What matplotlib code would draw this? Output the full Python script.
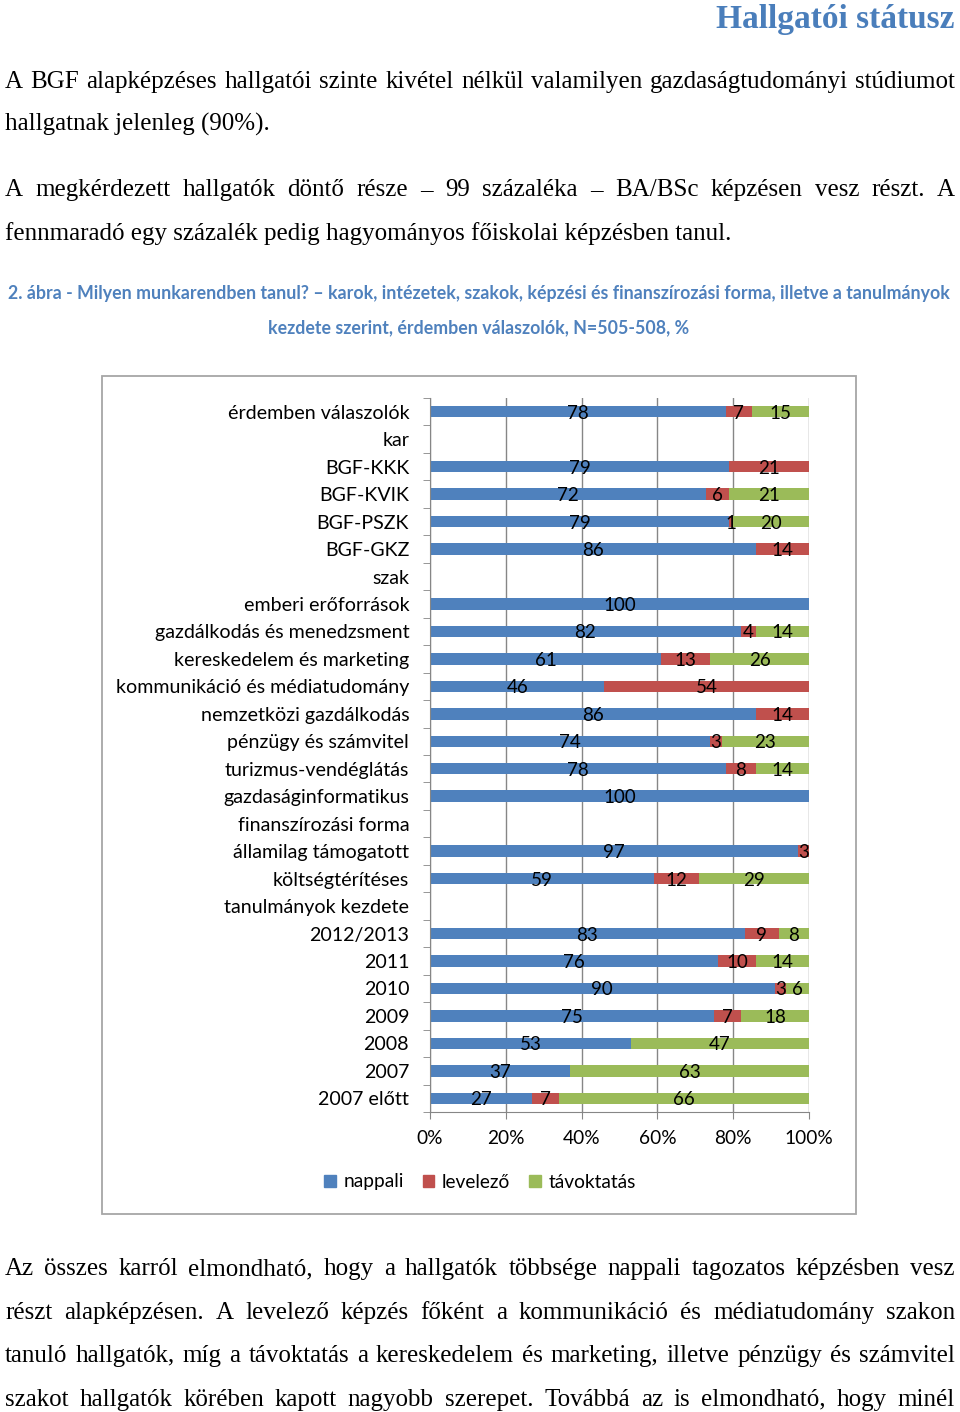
import matplotlib
matplotlib.use("Agg")
import matplotlib.pyplot as plt
from matplotlib.patches import Rectangle, Patch
import numpy as np

# chart data (None = group heading row without bar)
categories = ["érdemben válaszolók", "kar", "BGF-KKK", "BGF-KVIK", "BGF-PSZK", "BGF-GKZ",
              "szak", "emberi erőforrások", "gazdálkodás és menedzsment",
              "kereskedelem és marketing", "kommunikáció és médiatudomány",
              "nemzetközi gazdálkodás", "pénzügy és számvitel", "turizmus-vendéglátás",
              "gazdaságinformatikus", "finanszírozási forma", "államilag támogatott",
              "költségtérítéses", "tanulmányok kezdete", "2012/2013", "2011", "2010",
              "2009", "2008", "2007", "2007 előtt"]
nappali = [78, None, 79, 72, 79, 86, None, 100, 82, 61, 46, 86, 74, 78, 100, None,
           97, 59, None, 83, 76, 90, 75, 53, 37, 27]
levelezo = [7, None, 21, 6, 1, 14, None, 0, 4, 13, 54, 14, 3, 8, 0, None,
            3, 12, None, 9, 10, 3, 7, 0, 0, 7]
tavoktatas = [15, None, 0, 21, 20, 0, None, 0, 14, 26, 0, 0, 23, 14, 0, None,
              0, 29, None, 8, 14, 6, 18, 47, 63, 66]
series_names = ["nappali", "levelező", "távoktatás"]
x_ticks = [0, 20, 40, 60, 80, 100]

title = "Hallgatói státusz"
caption = ["2. ábra - Milyen munkarendben tanul? – karok, intézetek, szakok, képzési és finanszírozási forma, illetve a tanulmányok",
           "kezdete szerint, érdemben válaszolók, N=505-508, %"]
para_top = [
    ["A BGF alapképzéses hallgatói szinte kivétel nélkül valamilyen gazdaságtudományi stúdiumot",
     "hallgatnak jelenleg (90%)."],
    ["A megkérdezett hallgatók döntő része – 99 százaléka – BA/BSc képzésen vesz részt. A",
     "fennmaradó egy százalék pedig hagyományos főiskolai képzésben tanul."],
]
para_bottom = [
    "Az összes karról elmondható, hogy a hallgatók többsége nappali tagozatos képzésben vesz",
    "részt alapképzésen. A levelező képzés főként a kommunikáció és médiatudomány szakon",
    "tanuló hallgatók, míg a távoktatás a kereskedelem és marketing, illetve pénzügy és számvitel",
    "szakot hallgatók körében kapott nagyobb szerepet. Továbbá az is elmondható, hogy minél",
]

colors = ["#4F81BD", "#C0504D", "#9BBB59"]
W, H = 960, 1412
SANS = "Lato"
SERIF = "Liberation Serif"

fig = plt.figure(figsize=(W / 100, H / 100), dpi=100)
renderer = fig.canvas.get_renderer()


def text_line(line, base_y, justify=True, x0=5, x1=955, size=18):
    words = line.split(" ")
    if not justify:
        fig.text(x0 / W, 1 - base_y / H, line, ha="left", va="baseline",
                 fontsize=size, family=SERIF)
        return
    arts = [fig.text(0, 1 - base_y / H, w, ha="left", va="baseline",
                     fontsize=size, family=SERIF) for w in words]
    widths = [a.get_window_extent(renderer).width for a in arts]
    gap = (x1 - x0 - sum(widths)) / (len(words) - 1)
    x = x0
    for a, w in zip(arts, widths):
        a.set_x(x / W)
        x += w + gap


# page text
fig.text(955 / W, 1 - 28 / H, title, ha="right", va="baseline", fontsize=24,
         family=SERIF, fontweight="bold", color="#4A7EBB")
text_line(para_top[0][0], 88)
text_line(para_top[0][1], 131, justify=False)
text_line(para_top[1][0], 196)
text_line(para_top[1][1], 240, justify=False)
for i, line in enumerate(para_bottom):
    text_line(line, 1275 + i * 43.6)

fig.text(479 / W, 1 - 293 / H, caption[0], ha="center", va="center", fontsize=12.8,
         family=SANS, fontweight="bold", color="#4F81BD")
fig.text(479 / W, 1 - 328 / H, caption[1], ha="center", va="center", fontsize=12.8,
         family=SANS, fontweight="bold", color="#4F81BD")

# chart frame
fig.add_artist(Rectangle((102 / W, 1 - 1214 / H), 754 / W, 838 / H,
                         transform=fig.transFigure, fill=False,
                         edgecolor="#a6a6a6", lw=1.3))

ax = fig.add_axes([430 / W, 1 - 1112 / H, 379 / W, 714 / H])
n = len(categories)
ypos = np.arange(n)
vals = [np.array([np.nan if v is None else v for v in s], dtype=float)
        for s in (nappali, levelezo, tavoktatas)]
totals = np.nansum(vals, axis=0)
totals[totals == 0] = 1
left = np.zeros(n)
for v, name, c in zip(vals, series_names, colors):
    share = np.nan_to_num(v) / totals * 100
    ax.barh(ypos, share, left=left, height=0.42, color=c, label=name, zorder=2)
    for i in range(n):
        if not np.isnan(v[i]) and v[i] > 0:
            ax.text(left[i] + share[i] / 2, ypos[i], f"{int(v[i])}", ha="center",
                    va="center_baseline", fontsize=13.5, family=SANS, zorder=3)
    left += share

ax.set_xlim(0, 100)
ax.set_ylim(n - 0.5, -0.5)
ax.set_xticks(x_ticks, [f"{t}%" for t in x_ticks])
ax.set_yticks(ypos, categories)
ax.set_yticks(np.arange(n + 1) - 0.5, minor=True)
ax.tick_params(axis="y", which="major", length=0, pad=15, labelsize=14.1)
ax.tick_params(axis="y", which="minor", length=5, color="#868686")
ax.tick_params(axis="x", length=5, color="#868686", pad=8, labelsize=13.8)
for lab in ax.get_xticklabels() + ax.get_yticklabels():
    lab.set_family(SANS)
ax.grid(axis="x", color="#868686", lw=1, zorder=0)
ax.set_axisbelow(True)
for s in ["top", "right"]:
    ax.spines[s].set_visible(False)
for s in ["left", "bottom"]:
    ax.spines[s].set_color("#868686")

handles = [Patch(color=c, label=nm) for c, nm in zip(colors, series_names)]
fig.legend(handles=handles, loc="center", bbox_to_anchor=(480 / W, 1 - 1182 / H),
           ncol=3, frameon=False, handlelength=0.6, handleheight=0.6,
           handletextpad=0.4, columnspacing=1.0, prop={"family": SANS, "size": 13.8})

fig.savefig("out.png", dpi=100)
